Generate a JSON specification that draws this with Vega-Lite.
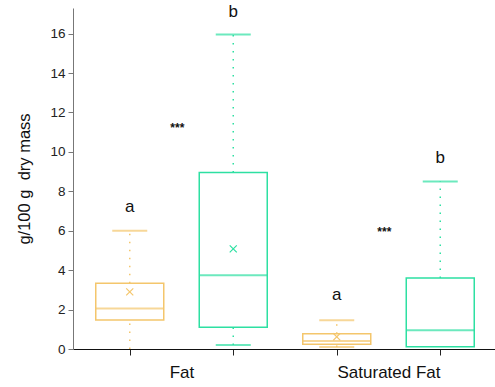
{
  "$schema": "https://vega.github.io/schema/vega-lite/v6.json",
  "autosize": {"type": "none"},
  "padding": {"left": 73, "top": 8, "right": 0, "bottom": 38},
  "width": 424,
  "height": 341,
  "config": {
    "view": {"stroke": null},
    "font": "Liberation Sans"
  },
  "datasets": {
    "boxes": [
      {"pos": 1, "series": "A", "lo": 0, "q1": 1.47, "med": 2.05, "q3": 3.33, "hi": 6.0, "mean": 2.9},
      {"pos": 2, "series": "B", "lo": 0.2, "q1": 1.1, "med": 3.74, "q3": 8.95, "hi": 15.95, "mean": 5.08},
      {"pos": 3, "series": "A", "lo": 0.1, "q1": 0.24, "med": 0.41, "q3": 0.78, "hi": 1.46, "mean": 0.62},
      {"pos": 4, "series": "B", "lo": 0.12, "q1": 0.12, "med": 0.95, "q3": 3.6, "hi": 8.5, "mean": null}
    ],
    "notes": [
      {"pos": 1, "y": 7.2, "label": "a", "kind": "letter"},
      {"pos": 2, "y": 17.1, "label": "b", "kind": "letter"},
      {"pos": 3, "y": 2.74, "label": "a", "kind": "letter"},
      {"pos": 4, "y": 9.7, "label": "b", "kind": "letter"},
      {"pos": 1.46, "y": 11.38, "label": "***", "kind": "star"},
      {"pos": 3.46, "y": 6.1, "label": "***", "kind": "star"}
    ]
  },
  "encoding": {
    "x": {
      "field": "pos", "type": "quantitative",
      "scale": {"domain": [0.5, 4.5], "nice": false, "zero": false},
      "axis": {
        "title": null,
        "grid": false,
        "values": [1, 1.5, 2, 3, 3.5, 4],
        "labelExpr": "datum.value == 1.5 ? 'Fat' : (datum.value == 3.5 ? 'Saturated Fat' : '')",
        "labelFontSize": 17,
        "labelColor": "#111",
        "labelPadding": 9,
        "labelFlush": false,
        "labelOverlap": false,
        "tickSize": 6,
        "tickColor": "#222",
        "tickOpacity": {"condition": {"test": "datum.value == 1.5 || datum.value == 3.5", "value": 0}, "value": 1},
        "domainColor": "#111",
        "domainWidth": 1.2
      }
    }
  },
  "layer": [
    {
      "data": {"name": "boxes"},
      "mark": {"type": "rule", "strokeDash": [1.5, 6.5], "strokeWidth": 1.5},
      "encoding": {
        "y": {"field": "q3", "type": "quantitative",
          "scale": {"domain": [0, 17.3], "nice": false},
          "axis": {
            "title": "g/100 g\u00a0 dry mass",
            "titleFontSize": 16.5,
            "titleFontWeight": "normal",
            "titleColor": "#111",
            "titlePadding": 17,
            "grid": false,
            "values": [0,1,2,3,4,5,6,7,8,9,10,11,12,13,14,15,16],
            "labelExpr": "datum.value % 2 == 0 ? datum.label : ''",
            "labelFontSize": 13.5,
            "labelColor": "#222",
            "labelPadding": 3,
            "tickColor": "#777",
            "domainColor": "#777",
            "tickSize": {"condition": {"test": "datum.value % 2 == 1", "value": 3}, "value": 5}
          }
        },
        "y2": {"field": "hi"},
        "color": {"field": "series", "type": "nominal", "scale": {"domain": ["A", "B"], "range": ["#F4C66C", "#2DE0A2"]}, "legend": null}
      }
    },
    {
      "data": {"name": "boxes"},
      "mark": {"type": "rule", "strokeDash": [1.5, 6.5], "strokeWidth": 1.5},
      "encoding": {
        "y": {"field": "lo", "type": "quantitative"},
        "y2": {"field": "q1"},
        "color": {"field": "series", "type": "nominal", "legend": null}
      }
    },
    {
      "data": {"name": "boxes"},
      "mark": {"type": "tick", "orient": "horizontal", "size": 35, "thickness": 2},
      "encoding": {
        "y": {"field": "hi", "type": "quantitative"},
        "color": {"field": "series", "type": "nominal", "legend": null}
      }
    },
    {
      "data": {"name": "boxes"},
      "transform": [{"filter": "datum.lo < datum.q1 && datum.lo > 0"}],
      "mark": {"type": "tick", "orient": "horizontal", "size": 35, "thickness": 2},
      "encoding": {
        "y": {"field": "lo", "type": "quantitative"},
        "color": {"field": "series", "type": "nominal", "legend": null}
      }
    },
    {
      "data": {"name": "boxes"},
      "mark": {"type": "bar", "width": 68, "filled": false, "strokeWidth": 1.5},
      "encoding": {
        "y": {"field": "q1", "type": "quantitative"},
        "y2": {"field": "q3"},
        "color": {"field": "series", "type": "nominal", "legend": null}
      }
    },
    {
      "data": {"name": "boxes"},
      "mark": {"type": "tick", "orient": "horizontal", "size": 68, "thickness": 2},
      "encoding": {
        "y": {"field": "med", "type": "quantitative"},
        "color": {"field": "series", "type": "nominal", "legend": null}
      }
    },
    {
      "data": {"name": "boxes"},
      "transform": [{"filter": "datum.mean != null"}],
      "mark": {"type": "point", "shape": "M-1,-1L1,1M-1,1L1,-1", "size": 50, "strokeWidth": 1.2, "filled": false, "opacity": 1},
      "encoding": {
        "y": {"field": "mean", "type": "quantitative"},
        "color": {"field": "series", "type": "nominal", "legend": null}
      }
    },
    {
      "data": {"name": "notes"},
      "transform": [{"filter": "datum.kind == 'letter'"}],
      "mark": {"type": "text", "fontSize": 17, "baseline": "middle", "color": "#111"},
      "encoding": {
        "y": {"field": "y", "type": "quantitative"},
        "text": {"field": "label"}
      }
    },
    {
      "data": {"name": "notes"},
      "transform": [{"filter": "datum.kind == 'star'"}],
      "mark": {"type": "text", "fontSize": 12, "fontWeight": "bold", "baseline": "middle", "dy": 3, "color": "#111"},
      "encoding": {
        "y": {"field": "y", "type": "quantitative"},
        "text": {"field": "label"}
      }
    }
  ]
}
